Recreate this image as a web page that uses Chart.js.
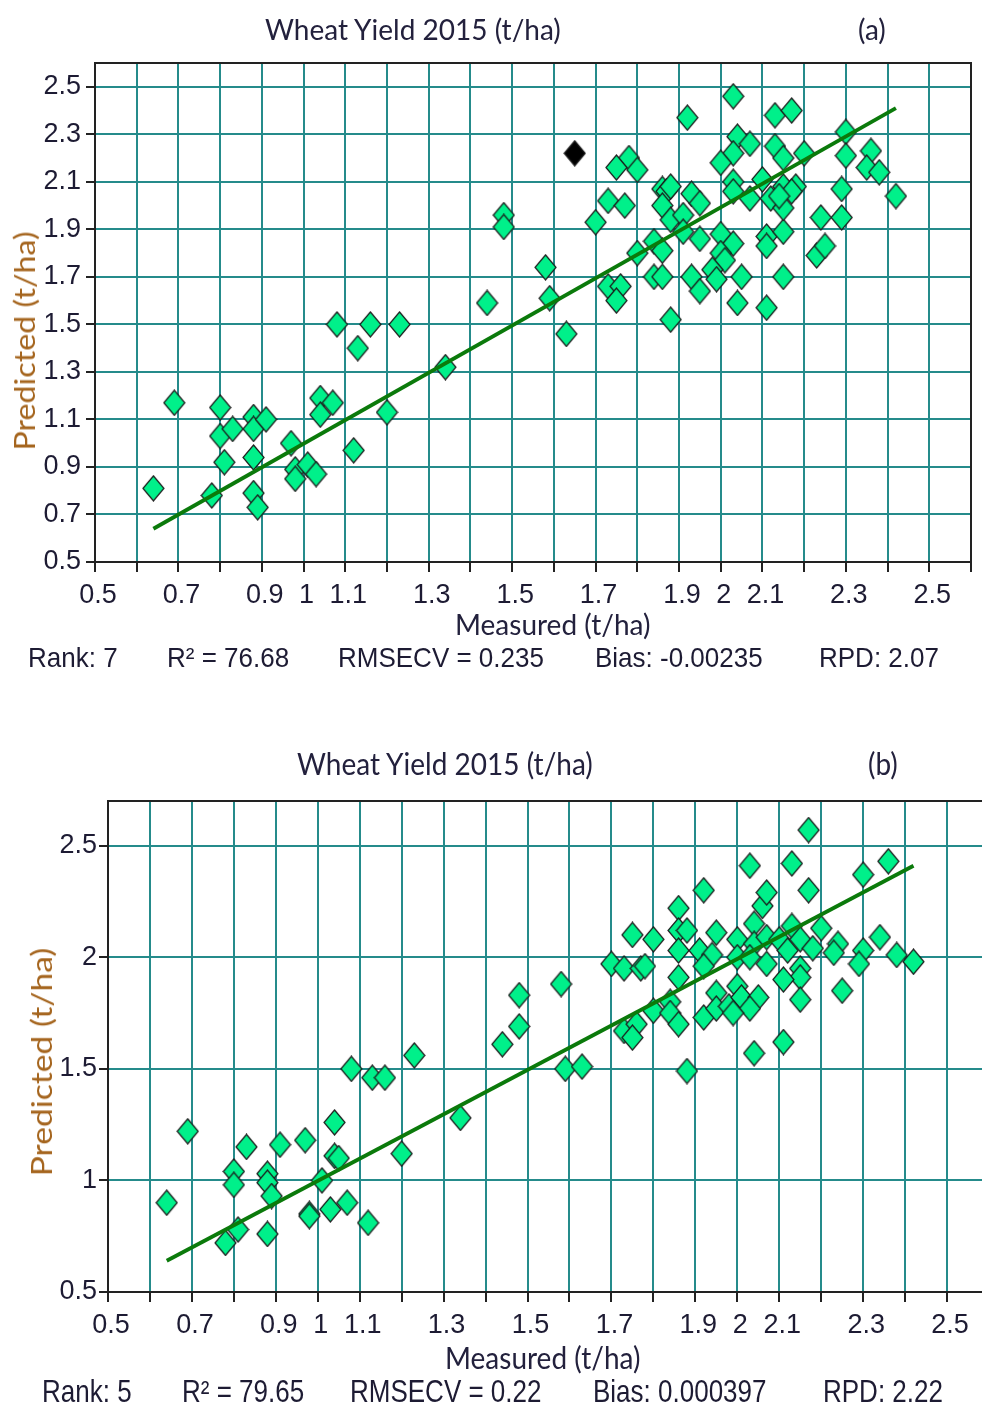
<!DOCTYPE html>
<html lang="en">
<head>
<meta charset="UTF-8">
<title>Wheat Yield 2015 (t/ha)</title>
<script src="https://cdn.jsdelivr.net/npm/chart.js"></script>
<style>
  body { margin: 0; background: #fff; width: 982px; height: 1408px; overflow: hidden; position: relative; }
  .panel { position: absolute; left: 0; width: 982px; overflow: hidden; }
  .panel canvas { display: block; }
  .txt { position: absolute; white-space: nowrap; line-height: 1; transform-origin: 0 0; }
  .title { font-family: Lato, sans-serif; font-size: 28px; color: #23213d; }
  .stat { font-family: 'Liberation Sans', Arial, sans-serif; font-size: 26px; color: #1d1b33; }
  .ylab { font-family: Lato, sans-serif; font-size: 28px; color: #a5651e; transform-origin: 50% 50%; }
</style>
</head>
<body>
<div class="panel" style="top:0;height:700px"><canvas id="chartA" width="982" height="700"></canvas></div>
<div class="panel" style="top:700px;height:708px"><canvas id="chartB" width="1000" height="708"></canvas></div>

<!-- panel (a) texts -->
<div class="txt title" style="left:265px;top:15px">Wheat Yield 2015 (t/ha)</div>
<div class="txt title" style="left:858px;top:15px">(a)</div>
<div class="txt title" style="left:455px;top:610px">Measured (t/ha)</div>
<div class="txt ylab" style="left:24px;top:341px;transform:translate(-50%,-50%) rotate(-90deg) scaleX(1.15)">Predicted (t/ha)</div>
<div class="txt stat" style="left:28px;top:643px;transform:scaleY(1.07)">Rank: 7</div>
<div class="txt stat" style="left:167px;top:643px;transform:scaleY(1.07)">R² = 76.68</div>
<div class="txt stat" style="left:338px;top:643px;transform:scaleY(1.07)">RMSECV = 0.235</div>
<div class="txt stat" style="left:595px;top:643px;transform:scaleY(1.07)">Bias: -0.00235</div>
<div class="txt stat" style="left:819px;top:643px;transform:scaleY(1.07)">RPD: 2.07</div>

<!-- panel (b) texts -->
<div class="txt title" style="left:297px;top:747px;transform:scaleY(1.1)">Wheat Yield 2015 (t/ha)</div>
<div class="txt title" style="left:868px;top:747px;transform:scaleY(1.1)">(b)</div>
<div class="txt title" style="left:445px;top:1342px;transform:scaleY(1.1)">Measured (t/ha)</div>
<div class="txt ylab" style="left:41px;top:1062px;transform:translate(-50%,-50%) rotate(-90deg) scaleX(1.2)">Predicted (t/ha)</div>
<div class="txt stat" style="left:42px;top:1376px;transform:scaleY(1.18)">Rank: 5</div>
<div class="txt stat" style="left:182px;top:1376px;transform:scaleY(1.18)">R² = 79.65</div>
<div class="txt stat" style="left:350px;top:1376px;transform:scaleY(1.18)">RMSECV = 0.22</div>
<div class="txt stat" style="left:593px;top:1376px;transform:scaleY(1.18)">Bias: 0.000397</div>
<div class="txt stat" style="left:823px;top:1376px;transform:scaleY(1.18)">RPD: 2.22</div>

<script>
// ---- data ----
const measuredA = [
  0.64, 0.69, 0.78, 0.80, 0.80, 0.83, 0.81, 0.88, 0.88, 0.91, 0.88, 0.88, 0.89,
  0.97, 0.98, 0.98, 1.01, 1.03, 1.04, 1.04, 1.07, 1.12, 1.08, 1.13, 1.16, 1.23,
  1.20, 1.34, 1.44, 1.48, 1.48, 1.58, 1.59, 1.63,
  1.70, 1.73, 1.77, 1.78, 1.75, 1.80, 1.73, 1.76, 1.75, 1.80, 1.84, 1.86, 1.84,
  1.86, 1.88, 1.86, 1.87, 1.88, 1.86, 1.88, 1.93, 1.95, 1.91, 1.91, 1.95, 1.93,
  1.95, 1.92, 2.03, 2.04, 2.07, 2.03, 2.00, 2.13, 2.15, 2.20, 2.13, 2.17, 2.30,
  2.30, 2.36, 2.35, 2.38, 2.42, 2.29, 2.29, 2.24, 2.23, 2.25, 2.00, 2.03, 2.00,
  2.01, 1.98, 1.99, 2.05, 2.04, 2.11, 2.15, 2.11, 2.11, 2.15, 2.03, 2.03, 2.07,
  2.10, 2.12, 2.15, 2.18, 2.15, 2.17, 2.14
];
const predictedA = [
  0.81, 1.17, 0.78, 1.15, 1.03, 1.06, 0.92, 1.11, 1.06, 1.10, 0.94, 0.79, 0.73,
  1.00, 0.89, 0.85, 0.91, 0.87, 1.19, 1.12, 1.17, 0.97, 1.50, 1.40, 1.50, 1.50,
  1.13, 1.32, 1.59, 1.96, 1.91, 1.74, 1.61, 1.46,
  1.93, 2.02, 2.00, 2.20, 2.16, 2.15, 1.66, 1.66, 1.60, 1.80, 1.85, 1.81, 1.70,
  1.70, 1.52, 2.07, 2.06, 2.08, 2.00, 1.94, 2.05, 2.01, 1.96, 1.89, 1.86, 1.70,
  1.64, 2.37, 2.46, 2.29, 2.26, 2.22, 2.18, 2.25, 2.20, 2.22, 2.38, 2.40, 2.31,
  2.21, 2.23, 2.16, 2.14, 2.04, 2.07, 1.95, 1.95, 1.79, 1.83, 1.88, 1.84, 1.80,
  1.77, 1.73, 1.69, 1.70, 1.59, 1.57, 1.70, 1.87, 1.83, 1.89, 2.10, 2.06, 2.03,
  2.11, 2.03, 1.99, 2.08, 2.08, 2.06, 2.04
];
const outlierMeasuredA = [1.65];
const outlierPredictedA = [2.22];
const fitMeasuredA = [0.64, 2.42];
const fitPredictedA = [0.64, 2.41];

const measuredB = [
  0.64, 0.69, 0.78, 0.81, 0.80, 0.80, 0.83, 0.88, 0.88, 0.89, 0.88, 0.91, 0.97,
  0.98, 0.98, 1.01, 1.03, 1.04, 1.04, 1.05, 1.07, 1.08, 1.13, 1.16, 1.12, 1.20,
  1.23, 1.34, 1.44, 1.48, 1.48, 1.58, 1.59, 1.63,
  1.70, 1.73, 1.77, 1.78, 1.75, 1.80, 1.86, 1.86, 1.88, 1.86, 1.91, 1.94, 1.92,
  1.95, 1.92, 1.86, 1.84, 1.80, 1.84, 1.86, 1.73, 1.76, 1.75, 1.92, 1.95, 1.95,
  1.98, 2.00, 2.01, 2.05, 2.03, 1.99, 2.00, 2.00, 2.03, 2.04, 2.06, 2.07, 2.04,
  2.07, 2.07, 2.03, 2.13, 2.17, 2.13, 2.10, 2.12, 2.15, 2.20, 2.18, 2.15, 2.15,
  2.11, 2.15, 2.24, 2.23, 2.25, 2.30, 2.29, 2.34, 2.30, 2.36, 2.38, 2.42, 2.04,
  2.11, 1.88, 2.17
];
const predictedB = [
  0.90, 1.22, 0.72, 0.78, 1.04, 0.98, 1.15, 1.03, 0.99, 0.93, 0.76, 1.16, 1.18,
  0.85, 0.84, 1.00, 0.87, 1.26, 1.11, 1.10, 0.90, 1.50, 1.46, 1.46, 0.81, 1.12,
  1.56, 1.28, 1.61, 1.69, 1.83, 1.88, 1.50, 1.51,
  1.97, 1.95, 1.95, 1.96, 2.10, 2.08, 2.22, 2.12, 2.12, 2.03, 2.03, 2.01, 2.30,
  2.11, 1.96, 1.91, 1.80, 1.76, 1.75, 1.70, 1.67, 1.70, 1.64, 1.73, 1.84, 1.77,
  1.78, 1.87, 1.82, 1.82, 1.77, 1.75, 2.08, 2.00, 2.41, 2.15, 2.23, 2.29, 2.06,
  2.09, 1.97, 2.00, 2.42, 2.30, 2.14, 2.08, 2.03, 2.08, 2.13, 2.04, 1.95, 1.91,
  1.90, 1.81, 2.06, 2.02, 1.85, 2.03, 1.97, 2.09, 2.37, 2.43, 2.01, 1.98, 1.57,
  1.62, 1.49, 2.57
];
const fitMeasuredB = [0.64, 2.42];
const fitPredictedB = [0.64, 2.41];

// axis ticks
const xGridValues = [0.5, 0.6, 0.7, 0.8, 0.9, 1.0, 1.1, 1.2, 1.3, 1.4, 1.5, 1.6, 1.7,
                     1.8, 1.9, 2.0, 2.1, 2.2, 2.3, 2.4, 2.5, 2.6];
const xTickLabels = ['0.5', '0.7', '0.9', '1', '1.1', '1.3', '1.5', '1.7', '1.9', '2', '2.1', '2.3', '2.5'];
const yTickLabelsA = ['0.5', '0.7', '0.9', '1.1', '1.3', '1.5', '1.7', '1.9', '2.1', '2.3', '2.5'];
const yTickLabelsB = ['0.5', '1', '1.5', '2', '2.5'];

// ---- drawing ----
const teal = '#258b8b';
const axisColor = '#222222';
const tickFont = { family: "'Liberation Sans', Arial, sans-serif", size: 27 };

function diamond(fill) {
  const c = document.createElement('canvas');
  c.width = 23; c.height = 27;
  const g = c.getContext('2d');
  g.beginPath();
  g.moveTo(11.5, 1); g.lineTo(22, 13.5); g.lineTo(11.5, 26); g.lineTo(1, 13.5);
  g.closePath();
  g.fillStyle = fill; g.fill();
  g.lineWidth = 1.2; g.strokeStyle = '#1a1a1a'; g.stroke();
  return c;
}
const greenDiamond = diamond('#00f08a');
const blackDiamond = diamond('#000000');

function points(xs, ys) {
  return xs.map((x, i) => ({ x: x, y: ys[i] }));
}

const frame = {
  id: 'frame',
  beforeDatasetsDraw(chart) {
    const a = chart.chartArea, ctx = chart.ctx;
    ctx.save();
    ctx.strokeStyle = axisColor;
    ctx.lineWidth = 2;
    ctx.strokeRect(a.left, a.top, a.right - a.left, a.bottom - a.top);
    ctx.restore();
  }
};

function makeChart(id, cfg) {
  const datasets = [
    { type: 'line', data: points(cfg.fitX, cfg.fitY), borderColor: '#0b7a0b', borderWidth: 3.8,
      pointRadius: 0, order: 0 },
    { data: points(cfg.x, cfg.y), pointStyle: greenDiamond, pointRadius: 10, order: 1 }
  ];
  if (cfg.extra) {
    datasets.push({ data: points(cfg.extra[0], cfg.extra[1]), pointStyle: blackDiamond, pointRadius: 10, order: 1 });
  }
  return new Chart(document.getElementById(id), {
    type: 'scatter',
    data: { datasets: datasets },
    options: {
      responsive: false,
      animation: false,
      devicePixelRatio: 1,
      layout: { padding: cfg.padding },
      plugins: { legend: { display: false }, tooltip: { enabled: false } },
      scales: {
        x: {
          type: 'linear', min: 0.5, max: 2.6,
          afterBuildTicks: s => { s.ticks = xGridValues.map(v => ({ value: v })); },
          afterFit: s => { s.height = 60; },
          grid: { color: teal, lineWidth: 2, tickColor: axisColor, tickLength: 10, tickWidth: 2 },
          border: { color: axisColor, width: 2 },
          ticks: {
            autoSkip: false, maxRotation: 0, padding: 7, labelOffset: 3,
            color: '#1d1b33', font: tickFont,
            callback: v => {
              const s = String(Math.round(v * 10) / 10);
              return xTickLabels.includes(s) ? s : '';
            }
          }
        },
        y: {
          type: 'linear', min: 0.5, max: cfg.yMax,
          afterBuildTicks: s => { s.ticks = cfg.yLabels.map(t => ({ value: parseFloat(t) })); },
          afterFit: s => { s.width = cfg.padding.left + cfg.yWidth; },
          grid: { color: teal, lineWidth: 2, tickColor: axisColor, tickLength: 9, tickWidth: 2 },
          border: { color: axisColor, width: 2 },
          ticks: {
            padding: cfg.yPad, color: '#1d1b33', font: tickFont,
            callback: (v, i) => cfg.yLabels[i]
          }
        }
      }
    },
    plugins: [frame]
  });
}

makeChart('chartA', {
  x: measuredA, y: predictedA, extra: [outlierMeasuredA, outlierPredictedA],
  fitX: fitMeasuredA, fitY: fitPredictedA,
  yMax: 2.6, yLabels: yTickLabelsA, yWidth: 95, yPad: 5,
  padding: { left: 0, top: 63, right: 2, bottom: 78 }
});

makeChart('chartB', {
  x: measuredB, y: predictedB,
  fitX: fitMeasuredB, fitY: fitPredictedB,
  yMax: 2.7, yLabels: yTickLabelsB, yWidth: 108, yPad: 2,
  padding: { left: 0, top: 101, right: 8, bottom: 56 }
});
</script>
</body>
</html>
